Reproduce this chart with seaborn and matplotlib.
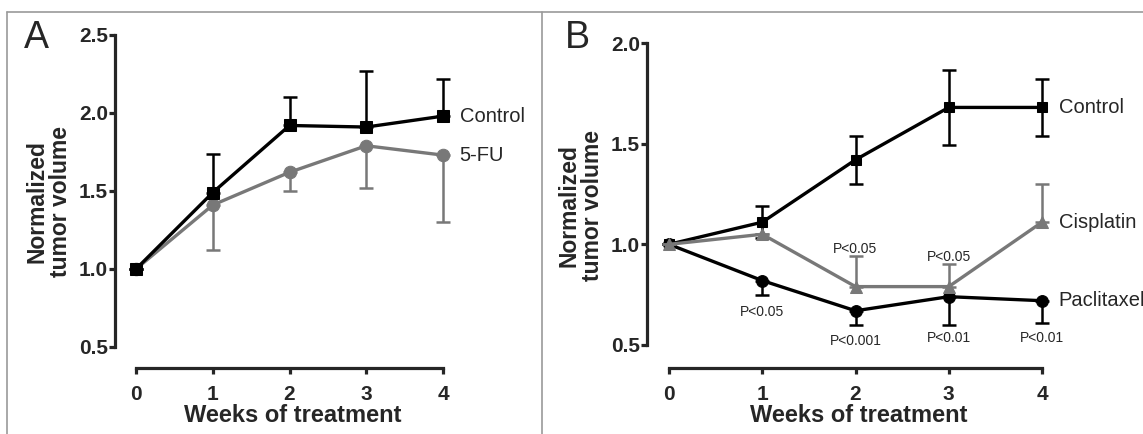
import numpy as np
import pandas as pd
import matplotlib
matplotlib.use("Agg")
import matplotlib.pyplot as plt
from matplotlib.lines import Line2D
import seaborn as sns

sns.set_style("ticks")
plt.rcParams['font.family'] = ['Liberation Sans', 'DejaVu Sans']

weeks = [0, 1, 2, 3, 4]

# panel A
a_control = [1.0, 1.49, 1.92, 1.91, 1.98]
a_control_up = [0.0, 0.25, 0.18, 0.36, 0.24]
a_fu = [1.0, 1.41, 1.62, 1.79, 1.73]
a_fu_down = [0.0, 0.29, 0.12, 0.27, 0.43]

# panel B
b_control = [1.0, 1.11, 1.42, 1.68, 1.68]
b_control_err = [0.0, 0.08, 0.12, 0.185, 0.14]
b_cis = [1.0, 1.05, 0.79, 0.79, 1.11]
b_cis_up = [0.0, 0.0, 0.15, 0.11, 0.19]
b_pac = [1.0, 0.82, 0.67, 0.74, 0.72]
b_pac_down = [0.0, 0.07, 0.07, 0.14, 0.11]

b_pvals_low = ["", "P<0.05", "P<0.001", "P<0.01", "P<0.01"]
b_pvals_low_y = [0, 0.665, 0.52, 0.535, 0.535]
b_pvals_high = ["", "", "P<0.05", "P<0.05", ""]
b_pvals_high_y = [0, 0, 0.975, 0.935, 0]

gray = '#787878'
W, H = 1143, 434
fig = plt.figure(figsize=(W / 100, H / 100), dpi=100)


def px_axes(x0, y0, x1, y1):
    return fig.add_axes([x0 / W, 1 - y1 / H, (x1 - x0) / W, (y1 - y0) / H])


def style(ax, xlim, ylim, ybounds, yticks):
    ax.set_xlim(*xlim)
    ax.set_ylim(*ylim)
    for s in ['top', 'right']:
        ax.spines[s].set_visible(False)
    ax.spines['left'].set_bounds(*ybounds)
    ax.spines['bottom'].set_bounds(0, 4)
    for s in ['left', 'bottom']:
        ax.spines[s].set_linewidth(2.3)
    ax.set_xticks(weeks)
    ax.set_yticks(yticks)
    ax.set_yticklabels([f"{t:.1f}" for t in yticks])
    ax.tick_params(axis='x', width=2.3, length=4, labelsize=15, pad=8)
    ax.tick_params(axis='y', width=2.3, length=4, labelsize=15, pad=1)
    for lab in ax.get_xticklabels() + ax.get_yticklabels():
        lab.set_fontweight('bold')
    ax.set_xlabel("Weeks of treatment", fontsize=17, fontweight='bold', labelpad=0)
    ax.set_ylabel("Normalized\ntumor volume", fontsize=16.5, fontweight='bold',
                  labelpad=5, linespacing=1.0)
    ax.grid(False)


def series(ax, y, err, color, marker, ms, name, z):
    df = pd.DataFrame({'week': weeks, 'value': y})
    sns.lineplot(data=df, x='week', y='value', ax=ax, color=color, lw=2.4,
                 marker=marker, markersize=ms, markeredgecolor=color,
                 zorder=z, clip_on=False)
    ax.errorbar(weeks, y, yerr=err, fmt='none', ecolor=color, elinewidth=1.8,
                capsize=5, capthick=1.8, zorder=z - 0.5, clip_on=False)
    ax.annotate(name, (4, y[-1]), xytext=(12, 0), textcoords='offset points',
                va='center', ha='left', fontsize=14.5)


# panel A
axA = px_axes(115, 35, 470, 368)
zeros = [0] * 5
series(axA, a_fu, [a_fu_down, zeros], gray, 'o', 9, "5-FU", 3)
series(axA, a_control, [zeros, a_control_up], 'black', 's', 9, "Control", 4)
style(axA, ((115 - 136) / 76.75, (470 - 136) / 76.75), (0.5 - 21 / 156, 2.5),
      (0.5, 2.5), [0.5, 1.0, 1.5, 2.0, 2.5])

# panel B
axB = px_axes(647, 43, 1070, 368)
series(axB, b_control, b_control_err, 'black', 's', 6.5, "Control", 4)
series(axB, b_pac, [b_pac_down, zeros], 'black', 'o', 8.5, "Paclitaxel", 3)
series(axB, b_cis, [zeros, b_cis_up], gray, '^', 8, "Cisplatin", 5)
style(axB, ((647 - 669) / 93.25, (1070 - 669) / 93.25), (0.5 - 23 / 201.3, 2.0),
      (0.5, 2.0), [0.5, 1.0, 1.5, 2.0])
for w, t, yy in zip(weeks, b_pvals_low, b_pvals_low_y):
    if t:
        axB.text(w, yy, t, ha='center', va='center', fontsize=10)
for w, t, yy in zip(weeks, b_pvals_high, b_pvals_high_y):
    if t:
        axB.text(w, yy, t, ha='center', va='center', fontsize=10)

# panel letters
fig.text(36 / W, 1 - 38 / H, "A", fontsize=27, ha='center', va='center')
fig.text(577 / W, 1 - 38 / H, "B", fontsize=27, ha='center', va='center')

# frame lines
lc = '#9a9a9a'
fig.add_artist(Line2D([7 / W, 1], [1 - 12 / H] * 2, color=lc, lw=1.2))
fig.add_artist(Line2D([7 / W] * 2, [0, 1 - 12 / H], color=lc, lw=1.2))
fig.add_artist(Line2D([542 / W] * 2, [0, 1 - 12 / H], color=lc, lw=1.2))

fig.savefig("out.png", dpi=100)
